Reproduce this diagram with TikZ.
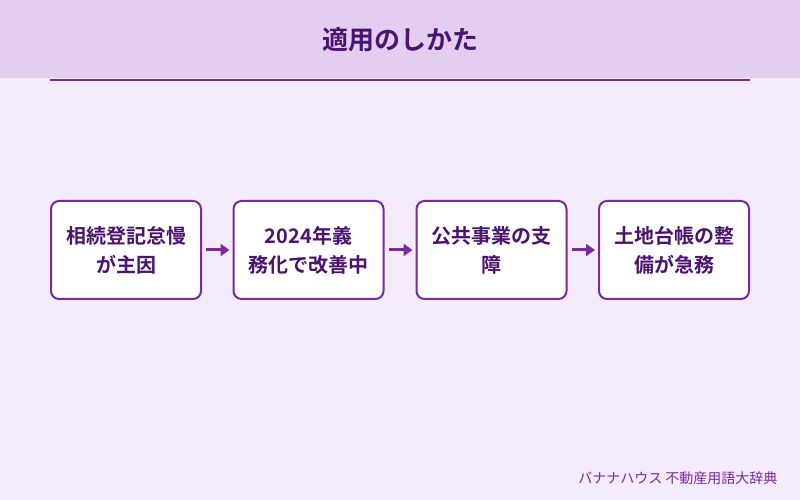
\documentclass[tikz,border=0pt]{standalone}
\usepackage{fontspec}
\setmainfont{Noto Sans CJK JP}
\newfontfamily\jpb{Noto Sans CJK JP Bold}
\usetikzlibrary{arrows.meta}
\definecolor{bg}{HTML}{F4ECFC}
\definecolor{hd}{HTML}{E3CDF0}
\definecolor{dp}{HTML}{4A1470}
\definecolor{pp}{HTML}{7A2A9E}
\begin{document}
\begin{tikzpicture}[x=1pt,y=1pt,
 box/.style={draw=pp,line width=2pt,fill=white,rounded corners=8pt,minimum width=150pt,minimum height=98pt,align=center,font=\jpb\fontsize{20}{29}\selectfont,text=dp},
 arr/.style={draw=pp,line width=3pt,-{Triangle[length=9pt,width=12pt]}}]
\useasboundingbox (0,0) rectangle (800,500);
\fill[bg] (0,0) rectangle (800,500);
\fill[hd] (0,422) rectangle (800,500);
\draw[pp,line width=1.5pt] (50,420) -- (750,420);
\node[font=\jpb\fontsize{26}{28}\selectfont,text=dp] (title) at (400,460) {適用のしかた};
\node[box] (a) at (126,250) {相続登記怠慢\\が主因};
\node[box] (b) at (308.5,250) {2024年義\\務化で改善中};
\node[box] (c) at (491.5,250) {公共事業の支\\障};
\node[box] (d) at (674,250) {土地台帳の整\\備が急務};
\draw[arr] ([xshift=4pt]a.east) -- ([xshift=-3pt]b.west);
\draw[arr] ([xshift=4pt]b.east) -- ([xshift=-3pt]c.west);
\draw[arr] ([xshift=4pt]c.east) -- ([xshift=-3pt]d.west);
\node[anchor=east,font=\fontsize{14}{16}\selectfont,text=pp] (f) at (781,22) {バナナハウス 不動産用語大辞典};
\end{tikzpicture}
\end{document}
